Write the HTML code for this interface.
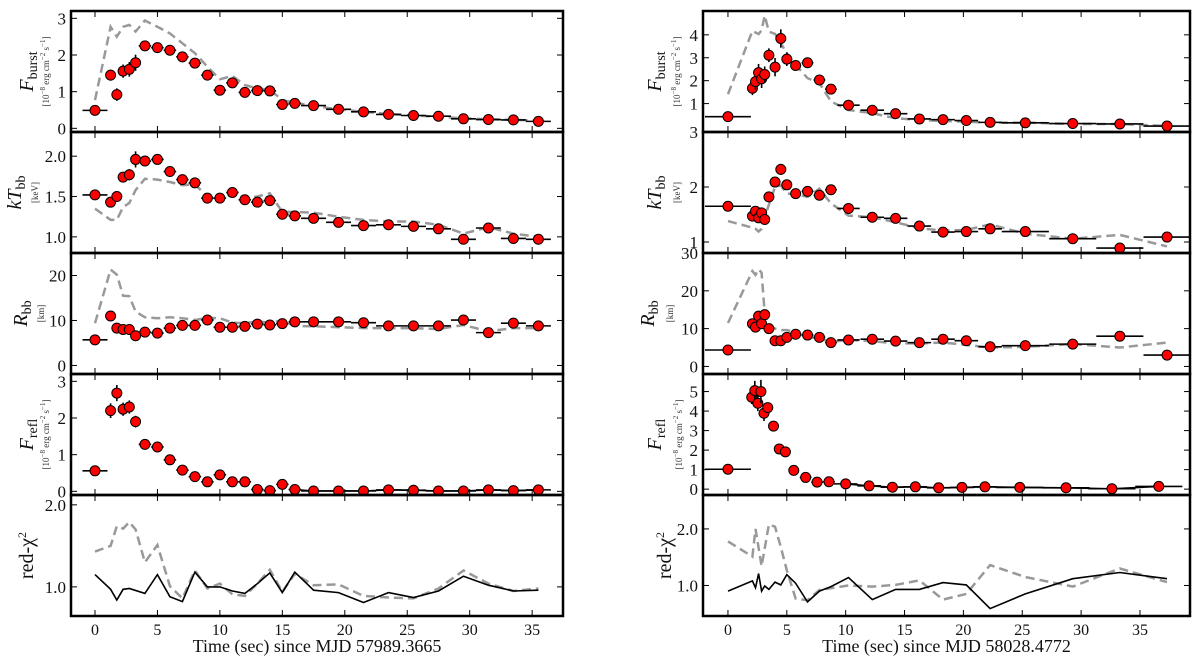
<!DOCTYPE html>
<html><head><meta charset="utf-8"><style>
html,body{margin:0;padding:0;background:#fff;}
svg{display:block;font-family:"Liberation Serif",serif;}
</style></head><body>
<svg id="fig" width="1200" height="660" viewBox="0 0 1200 660" xmlns="http://www.w3.org/2000/svg"></svg>
<script>
// ===== LEFT burst (MJD 57989.3665) =====
const L_t = [0,1.25,1.75,2.25,2.75,3.25,4,5,6,7,8,9,10,11,12,13,14,15,16,17.5,19.5,21.5,23.5,25.5,27.5,29.5,31.5,33.5,35.5];
const L_xerr = [1,0.25,0.25,0.25,0.25,0.25,0.5,0.5,0.5,0.5,0.5,0.5,0.5,0.5,0.5,0.5,0.5,0.5,0.5,1,1,1,1,1,1,1,1,1,1];
const L_fburst = [0.49,1.45,0.92,1.56,1.61,1.79,2.25,2.2,2.13,1.95,1.78,1.45,1.04,1.24,0.98,1.03,1.02,0.65,0.68,0.62,0.52,0.45,0.38,0.35,0.33,0.26,0.24,0.23,0.19];
const L_fburst_err = [0.05,0.15,0.17,0.18,0.2,0.22,0.12,0.12,0.1,0.1,0.08,0.07,0.06,0.06,0.06,0.05,0.05,0.04,0.04,0.03,0.03,0.03,0.03,0.03,0.03,0.03,0.03,0.03,0.03];
const L_fburst_alt = [0.77,2.77,2.5,2.77,2.82,2.64,2.94,2.77,2.59,2.32,2.05,1.68,1.34,1.43,1.18,1.09,1.05,0.77,0.7,0.61,0.52,0.45,0.39,0.35,0.32,0.27,0.25,0.23,0.21];
const L_kt = [1.52,1.43,1.5,1.74,1.77,1.96,1.94,1.96,1.81,1.71,1.67,1.48,1.48,1.55,1.46,1.43,1.45,1.28,1.26,1.23,1.18,1.14,1.15,1.13,1.1,0.97,1.11,0.98,0.97];
const L_kt_err = [0.05,0.04,0.06,0.06,0.07,0.1,0.06,0.06,0.05,0.05,0.05,0.04,0.04,0.05,0.04,0.05,0.05,0.04,0.04,0.03,0.03,0.03,0.03,0.03,0.03,0.03,0.05,0.03,0.03];
const L_kt_alt = [1.35,1.21,1.21,1.37,1.42,1.58,1.72,1.71,1.68,1.64,1.65,1.5,1.43,1.54,1.48,1.5,1.54,1.31,1.31,1.3,1.25,1.21,1.19,1.19,1.15,1.04,1.12,1.04,1.0];
const L_r = [5.7,11.0,8.3,8.0,8.0,6.6,7.4,7.2,8.3,8.9,8.9,10.1,8.5,8.5,8.7,9.2,9.0,9.3,9.7,9.7,9.7,9.5,8.8,8.8,8.8,10.1,7.3,9.4,8.8];
const L_r_err = [0.4,0.6,0.5,0.5,0.5,0.6,0.4,0.4,0.4,0.4,0.4,0.4,0.4,0.4,0.4,0.4,0.4,0.4,0.4,0.4,0.4,0.4,0.4,0.4,0.4,0.5,0.5,0.5,0.4];
const L_r_alt = [9.4,21.3,20.2,15.5,15.4,12,10.7,10.5,10.7,10.5,10.1,10.6,10.5,9.5,9.4,9.8,9.5,10,8.8,8.7,8.5,8.3,8.3,8.3,8.1,9,7.6,8.3,8.3];
const L_refl = [0.56,2.2,2.68,2.24,2.3,1.9,1.28,1.21,0.86,0.58,0.4,0.26,0.45,0.26,0.26,0.05,0.02,0.19,0.05,0.01,0.01,0.01,0.04,0.03,0.01,0.01,0.04,0.02,0.04];
const L_refl_err = [0.04,0.2,0.22,0.18,0.18,0.16,0.08,0.08,0.06,0.05,0.05,0.04,0.04,0.04,0.04,0.04,0.03,0.04,0.03,0.02,0.02,0.02,0.02,0.02,0.02,0.02,0.02,0.02,0.02];
const L_chi = [1.15,0.97,0.84,0.97,0.98,0.92,1.15,0.88,0.82,1.18,1.0,1.0,0.95,0.92,1.04,1.17,0.93,1.18,0.96,0.93,0.81,0.93,0.87,0.95,1.13,1.02,0.95,0.96];
const L_chi_t = [0,1.25,1.75,2.25,2.75,4,5,6,7,8,9,10,11,12,13,14,15,16,17.5,19.5,21.5,23.5,25.5,27.5,29.5,31.5,33.5,35.5];
const L_chi_alt = [1.43,1.5,1.74,1.71,1.79,1.7,1.3,1.51,1.01,0.86,1.2,0.98,1.04,0.91,0.89,1.04,1.21,0.94,1.16,1.02,1.03,0.89,0.87,0.86,0.98,1.2,1.04,0.95,0.98];

// ===== RIGHT burst (MJD 58028.4772) =====
const R_t = [0,2.08,2.34,2.6,2.86,3.12,3.48,4.0,4.49,5.0,5.75,6.76,7.77,8.75,10.24,12.26,14.24,16.26,18.27,20.25,22.27,25.26,29.29,33.29,37.3];
const R_xerr = [1.95,0.12,0.12,0.12,0.12,0.12,0.2,0.25,0.25,0.25,0.4,0.5,0.5,0.5,0.95,1,1,1,1,1,1,2,2,2,2];
const R_fburst = [0.43,1.67,1.96,2.35,2.08,2.27,3.11,2.59,3.84,2.94,2.66,2.78,2.03,1.63,0.93,0.71,0.56,0.33,0.3,0.26,0.18,0.16,0.13,0.11,0.02];
const R_fburst_err = [0.04,0.3,0.35,0.38,0.4,0.35,0.3,0.4,0.4,0.3,0.12,0.12,0.1,0.1,0.06,0.05,0.05,0.04,0.04,0.04,0.03,0.03,0.03,0.03,0.03];
const R_fburst_alt = [1.41,4.17,4.1,4.03,4.2,4.84,4.14,4.04,3.63,3.2,2.69,2.11,1.89,1.09,0.72,0.58,0.36,0.29,0.24,0.21,0.17,0.17,0.11,0.11,0.02];
const R_kt = [1.65,1.47,1.56,1.44,1.53,1.41,1.82,2.09,2.32,2.04,1.88,1.92,1.85,1.95,1.61,1.45,1.43,1.29,1.18,1.19,1.24,1.19,1.06,0.89,1.09];
const R_kt_err = [0.03,0.05,0.05,0.05,0.05,0.05,0.05,0.08,0.1,0.07,0.05,0.05,0.05,0.07,0.04,0.03,0.03,0.03,0.03,0.03,0.05,0.03,0.03,0.03,0.08];
const R_kt_alt = [1.38,1.26,1.24,1.19,1.24,1.45,1.68,2.0,2.03,1.88,1.87,1.82,1.97,1.7,1.48,1.45,1.36,1.25,1.21,1.22,1.32,1.15,1.06,1.13,0.92];
const R_r = [4.35,11.3,10.4,13.3,11.3,13.7,10,6.8,6.8,7.7,8.5,8.3,7.7,6.3,7.0,7.2,6.7,6.3,7.2,6.8,5.2,5.5,5.9,8.0,3.0];
const R_r_err = [0.3,0.8,0.8,0.8,0.8,0.8,0.6,0.5,0.5,0.5,0.5,0.5,0.4,0.4,0.4,0.4,0.4,0.4,0.4,0.4,0.4,0.4,0.4,0.4,0.4];
const R_r_alt = [11.5,25.2,24.2,25.7,24.8,14,10.9,10,9.6,9.6,9,7.8,7.4,6.5,7,6.7,6.1,6.1,6.3,5.7,5.0,5.2,5.9,5.0,6.3];
const R_refl_t = [0,2.02,2.28,2.54,2.8,3.06,3.38,3.87,4.36,4.88,5.59,6.6,7.57,8.58,10.0,11.99,13.97,15.92,17.9,19.88,21.83,24.79,28.72,32.62,36.6];
const R_refl_xerr = [1.95,0.12,0.12,0.12,0.12,0.12,0.15,0.2,0.2,0.2,0.4,0.5,0.5,0.5,1,1,1,1,1,1,1,2,2,2,2];
const R_refl = [1.02,4.71,5.05,4.4,5.0,3.89,4.18,3.23,2.06,1.91,0.96,0.6,0.36,0.38,0.27,0.17,0.1,0.12,0.07,0.09,0.12,0.09,0.07,0.02,0.14];
const R_refl_err = [0.05,0.35,0.5,0.4,0.6,0.4,0.25,0.2,0.1,0.1,0.06,0.05,0.05,0.05,0.04,0.04,0.04,0.04,0.04,0.04,0.04,0.04,0.04,0.04,0.04];
const R_chi = [0.9,1.08,0.96,1.21,0.9,0.99,0.93,1.06,1.01,1.19,1.04,0.71,0.9,0.98,1.14,0.75,0.93,0.93,1.05,1.01,0.59,0.85,1.12,1.23,1.12];
const R_chi_alt_t = [0,2.08,2.34,2.86,3.48,4.0,4.49,5.0,5.75,6.76,7.77,10.24,12.26,14.24,16.26,18.27,20.25,22.27,25.26,29.29,33.29,37.3];
const R_chi_alt = [1.78,1.51,2.0,1.34,2.08,2.04,1.68,1.27,0.77,0.74,0.92,1.0,0.98,1.01,1.09,0.75,0.85,1.36,1.15,0.98,1.3,1.06];

const NS = "http://www.w3.org/2000/svg";
const svg = document.getElementById('fig');
function mk(tag, attrs, parent){
  const e = document.createElementNS(NS, tag);
  for (const k in attrs) e.setAttribute(k, attrs[k]);
  (parent||svg).appendChild(e);
  return e;
}
const rows = [[11,132],[132,253],[253,374],[374,495],[495,616]];
function xscale(x0, x1, d0, d1){ return v => x0 + (v-d0)/(d1-d0)*(x1-x0); }
function yscale(row, d0, d1){ const [t,b]=rows[row]; return v => b - (v-d0)/(d1-d0)*(b-t); }

function frame(g, X0, X1, row, xs, yTicks, yFmt, ys, xLabels){
  const [t,b] = rows[row];
  for (let v=0; v<=35; v+=5){
    const x = xs(v);
    const tk1 = mk('line',{x1:x,y1:t,x2:x,y2:t+6,stroke:'#000','stroke-width':1},g);
    
    
    const tk2 = mk('line',{x1:x,y1:b,x2:x,y2:b-6,stroke:'#000','stroke-width':1},g);
    
    
    if (xLabels){
      const tl = mk('text',{x:x,y:b+19,'text-anchor':'middle','font-size':16,fill:'#111'},g);
      tl.textContent = v;
      
      
    }
  }
  yTicks.forEach(v=>{
    const y = ys(v);
    const a = mk('line',{x1:X0,y1:y,x2:X0+6,y2:y,stroke:'#000','stroke-width':1},g);
    
    
    const c = mk('line',{x1:X1,y1:y,x2:X1-6,y2:y,stroke:'#000','stroke-width':1},g);
    
    
    const tl = mk('text',{x:X0-5,y:y+6,'text-anchor':'end','font-size':17,fill:'#111'},g);
    tl.textContent = yFmt(v);
    
    
  });
  const r = mk('rect',{x:X0,y:t,width:X1-X0,height:b-t,fill:'none',stroke:'#000','stroke-width':2.5},g);
  
  
}
function polyline(g, ts, vs, xs, ys, dashed, name){
  const pts = ts.map((t,i)=>xs(t).toFixed(1)+','+ys(vs[i]).toFixed(1)).join(' ');
  const p = mk('polyline',{points:pts,fill:'none',stroke:dashed?'#999':'#000','stroke-width':dashed?2.5:1.6,'stroke-dasharray':dashed?'9,5':'none'},g);
  
  
}
function points(g, ts, xe, vs, ye, xs, ys, name){
  ts.forEach((t,i)=>{
    const x = xs(t), y = ys(vs[i]);
    const h = mk('line',{x1:xs(t-xe[i]),y1:y,x2:xs(t+xe[i]),y2:y,stroke:'#000','stroke-width':1.6},g);
    
    
    const v = mk('line',{x1:x,y1:ys(vs[i]-ye[i]),x2:x,y2:ys(vs[i]+ye[i]),stroke:'#000','stroke-width':1.6},g);
    
    
    const c = mk('circle',{cx:x,cy:y,r:5,fill:'#f00',stroke:'#000','stroke-width':1},g);
    
    
  });
}
function ylabel(g, cx, ux, row, main, sub, unit){
  const [t,b] = rows[row]; const cy=(t+b)/2;
  const tx = mk('text',{x:0,y:0,'text-anchor':'middle','font-size':20,fill:'#111',transform:`translate(${cx+6},${cy}) rotate(-90)`},g);
  
  
  tx.innerHTML = main + (sub?`<tspan font-size="14" dy="4" font-style="normal">${sub}</tspan>`:'');
  if (unit){
    const u = mk('text',{x:0,y:0,'text-anchor':'middle','font-size':9,fill:'#333',transform:`translate(${ux+3},${cy}) rotate(-90)`},g);
    
    
    u.innerHTML = unit;
  }
}
const fluxUnit = '[10<tspan dy="-4" font-size="7">−8</tspan><tspan dy="4"> erg cm</tspan><tspan dy="-4" font-size="7">−2</tspan><tspan dy="4"> s</tspan><tspan dy="-4" font-size="7">−1</tspan><tspan dy="4">]</tspan>';

function buildSide(cfg){
  const g = mk('g',{});
  
  
  const xs = xscale(cfg.X0,cfg.X1,cfg.d0,cfg.d1);
  cfg.panels.forEach((p,row)=>{
    const pg = mk('g',{},g);
    
    
    const ys = yscale(row,p.y0,p.y1);
    const clipId = cfg.name+'-clip'+row;
    const cp = mk('clipPath',{id:clipId},pg);
    mk('rect',{x:cfg.X0,y:rows[row][0],width:cfg.X1-cfg.X0,height:rows[row][1]-rows[row][0]},cp);
    const inner = mk('g',{'clip-path':`url(#${clipId})`},pg);
    if (p.alt) polyline(inner,p.altT,p.alt,xs,ys,true,'model-alt-dashed-line');
    if (p.line) polyline(inner,p.lineT,p.line,xs,ys,false,'model-solid-line');
    if (p.v) points(inner,p.t,p.xe,p.v,p.ye,xs,ys,'data-point');
    frame(pg,cfg.X0,cfg.X1,row,xs,p.ticks,p.fmt,ys,row===4);
    ylabel(pg,p.lx,p.ux,row,p.lab,p.sub,p.unit);
  });
  const xl = mk('text',{x:(cfg.X0+cfg.X1)/2,y:652,'text-anchor':'middle','font-size':18,fill:'#111'},g);
  
  
  xl.textContent = cfg.xtitle;
}
const f1 = v=>v.toFixed(1), f0 = v=>String(v);
buildSide({name:'left-burst-panels',X0:71,X1:563,d0:-1.92,d1:37.47,
  xtitle:'Time (sec) since MJD 57989.3665',
  panels:[
    {name:'left-fburst-panel',lx:27,ux:46,y0:-0.1,y1:3.2,ticks:[0,1,2,3],fmt:f0,lab:'<tspan font-style="italic">F</tspan>',sub:'burst',unit:fluxUnit,
     t:L_t,xe:L_xerr,v:L_fburst,ye:L_fburst_err,altT:L_t,alt:L_fburst_alt},
    {name:'left-ktbb-panel',lx:15,ux:35,y0:0.8,y1:2.3,ticks:[1,1.5,2],fmt:f1,lab:'<tspan font-style="italic">kT</tspan>',sub:'bb',unit:'[keV]',
     t:L_t,xe:L_xerr,v:L_kt,ye:L_kt_err,altT:L_t,alt:L_kt_alt},
    {name:'left-rbb-panel',lx:21,ux:41,y0:-1.9,y1:25,ticks:[0,10,20],fmt:f0,lab:'<tspan font-style="italic">R</tspan>',sub:'bb',unit:'[km]',
     t:L_t,xe:L_xerr,v:L_r,ye:L_r_err,altT:L_t,alt:L_r_alt},
    {name:'left-frefl-panel',lx:27,ux:46,y0:-0.1,y1:3.2,ticks:[0,1,2,3],fmt:f0,lab:'<tspan font-style="italic">F</tspan>',sub:'refl',unit:fluxUnit,
     t:L_t,xe:L_xerr,v:L_refl,ye:L_refl_err,lineT:L_t.slice(18),line:L_refl.slice(18)},
    {name:'left-redchi-panel',lx:27,ux:0,y0:0.645,y1:2.12,ticks:[1,2],fmt:f1,lab:'red-χ<tspan dy="-7" font-size="12">2</tspan>',sub:null,unit:null,
     lineT:L_chi_t,line:L_chi,altT:L_t,alt:L_chi_alt}
  ]});
buildSide({name:'right-burst-panels',X0:703,X1:1190,d0:-2.12,d1:39.25,
  xtitle:'Time (sec) since MJD 58028.4772',
  panels:[
    {name:'right-fburst-panel',lx:655,ux:677,y0:-0.24,y1:5.04,ticks:[1,2,3,4],fmt:f0,lab:'<tspan font-style="italic">F</tspan>',sub:'burst',unit:fluxUnit,
     t:R_t,xe:R_xerr,v:R_fburst,ye:R_fburst_err,altT:R_t,alt:R_fburst_alt},
    {name:'right-ktbb-panel',lx:655,ux:677,y0:0.8,y1:3.0,ticks:[1,2,3],fmt:f0,lab:'<tspan font-style="italic">kT</tspan>',sub:'bb',unit:'[keV]',
     t:R_t,xe:R_xerr,v:R_kt,ye:R_kt_err,altT:R_t,alt:R_kt_alt},
    {name:'right-rbb-panel',lx:648,ux:670,y0:-2,y1:30,ticks:[0,10,20,30],fmt:f0,lab:'<tspan font-style="italic">R</tspan>',sub:'bb',unit:'[km]',
     t:R_t,xe:R_xerr,v:R_r,ye:R_r_err,altT:R_t,alt:R_r_alt},
    {name:'right-frefl-panel',lx:655,ux:679,y0:-0.3,y1:5.9,ticks:[0,1,2,3,4,5],fmt:f0,lab:'<tspan font-style="italic">F</tspan>',sub:'refl',unit:fluxUnit,
     t:R_refl_t,xe:R_refl_xerr,v:R_refl,ye:R_refl_err,lineT:R_refl_t.slice(14),line:R_refl.slice(14)},
    {name:'right-redchi-panel',lx:665,ux:0,y0:0.46,y1:2.6,ticks:[1,2],fmt:f1,lab:'red-χ<tspan dy="-7" font-size="12">2</tspan>',sub:null,unit:null,
     lineT:R_t,line:R_chi,altT:R_chi_alt_t,alt:R_chi_alt}
  ]});
</script>
</body></html>
